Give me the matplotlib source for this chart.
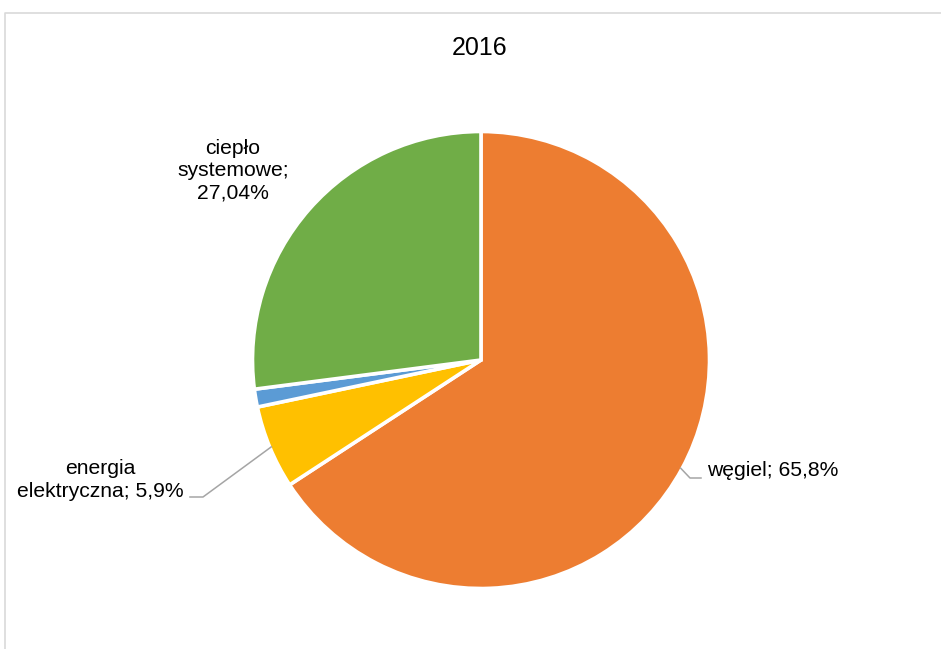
import numpy as np
import matplotlib.pyplot as plt

plt.rcParams['font.family'] = ['Liberation Sans', 'DejaVu Sans']

# data
categories = ['węgiel', 'energia elektryczna', 'inne', 'ciepło systemowe']
shares = [65.8, 5.9, 1.26, 27.04]
label_texts = ['węgiel; 65,8%', 'energia\nelektryczna; 5,9%', None,
               'ciepło\nsystemowe;\n27,04%']
colors = ['#ED7D31', '#FFC000', '#5B9BD5', '#70AD47']
title = '2016'

W, H = 941, 649


def px(x, y):
    # image pixel coords (y down) -> axes coords (y up)
    return x, H - y


fig = plt.figure(figsize=(W / 100, H / 100), dpi=100)
ax = fig.add_axes([0, 0, 1, 1])
ax.set_xlim(0, W)
ax.set_ylim(0, H)
ax.set_aspect('equal')
ax.axis('off')

# chart frame (cropped on right and bottom)
ax.plot([5.5, 5.5, W + 5], [-5, H - 12.5, H - 12.5], color='#D9D9D9', lw=1.2,
        solid_capstyle='butt')

cx, cy = px(481, 360)
r = 228.5
wedges, _ = ax.pie(shares, colors=colors, startangle=90, counterclock=False,
                   radius=r, center=(cx, cy),
                   wedgeprops=dict(edgecolor='white', linewidth=2.6))
ax.set_xlim(0, W)
ax.set_ylim(0, H)

ax.text(*px(480, 48), title, ha='center', va='center', fontsize=18)


def mid_point(w, rr):
    a = np.deg2rad((w.theta1 + w.theta2) / 2)
    return cx + rr * np.cos(a), cy + rr * np.sin(a)


lead = '#A5A5A5'
# węgiel
x0, y0 = mid_point(wedges[0], r - 1.5)
ex, ey = px(690, 478)
ax.plot([x0, ex, ex + 11], [y0, ey, ey], color=lead, lw=1.1)
ax.text(*px(707, 470), label_texts[0], ha='left', va='center', fontsize=15.2)

# energia elektryczna
x0, y0 = mid_point(wedges[1], r - 1.5)
ex, ey = px(203, 497)
ax.plot([x0, ex, ex - 13], [y0, ey, ey], color=lead, lw=1.1)
ax.text(*px(100, 480), label_texts[1], ha='center', va='center',
        fontsize=15.2, linespacing=1.3, multialignment='center')

# ciepło systemowe
ax.text(*px(233, 171), label_texts[3], ha='center', va='center',
        fontsize=15.2, linespacing=1.22, multialignment='center')

fig.savefig('out.png', dpi=100)
